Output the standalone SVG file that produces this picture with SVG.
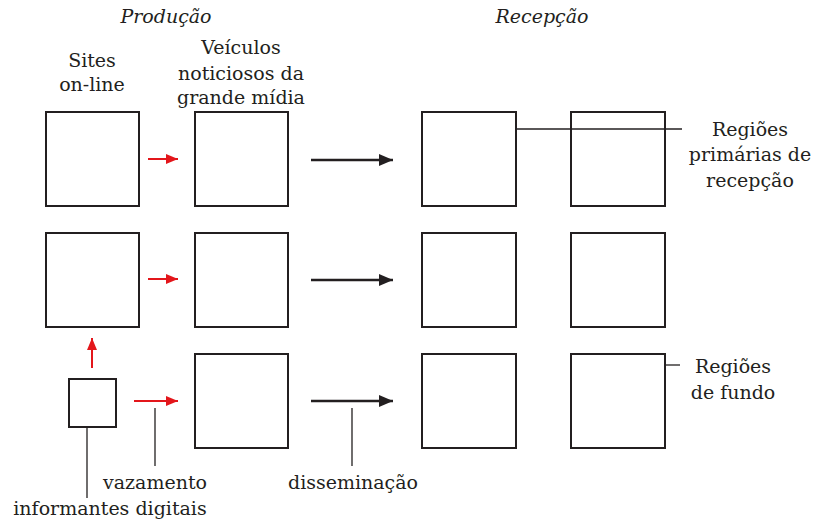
<svg xmlns="http://www.w3.org/2000/svg" width="819" height="522" viewBox="0 0 819 522">
<style>
.box{fill:none;stroke:#231f20;stroke-width:2}
.red{stroke:#e3161b;stroke-width:2;fill:none}
.blk{stroke:#231f20;stroke-width:2.5;fill:none}
.lead{stroke:#231f20;stroke-width:1.3;fill:none}
text{font-family:"DejaVu Serif","Liberation Serif",serif;font-size:19px;fill:#231f20;text-anchor:middle}
.it{font-style:italic}
</style>
<defs>
<marker id="rh" markerUnits="userSpaceOnUse" markerWidth="12" markerHeight="12" refX="12" refY="6" orient="auto"><path d="M0,1 L12,6 L0,11 Z" fill="#e3161b"/></marker>
<marker id="bh" markerUnits="userSpaceOnUse" markerWidth="14" markerHeight="14" refX="14" refY="7" orient="auto"><path d="M0,1 L14,7 L0,13 Z" fill="#231f20"/></marker>
</defs>
<rect width="819" height="522" fill="#fff"/>
<text class="it" x="166" y="23">Produção</text>
<text class="it" x="542" y="23">Recepção</text>
<g id="labels-top">
<text x="92" y="67">Sites</text>
<text x="92" y="91">on-line</text>
<text x="241" y="54">Veículos</text>
<text x="241" y="80">noticiosos da</text>
<text x="241" y="104">grande mídia</text>
</g>
<g id="n-site1"><rect class="box" x="46" y="112" width="93" height="94"/></g>
<g id="n-site2"><rect class="box" x="46" y="233" width="93" height="94"/></g>
<g id="n-inf"><rect class="box" x="69" y="379" width="47" height="48"/></g>
<g id="n-vei1"><rect class="box" x="195" y="112" width="93" height="94"/></g>
<g id="n-vei2"><rect class="box" x="195" y="233" width="93" height="94"/></g>
<g id="n-vei3"><rect class="box" x="195" y="354" width="93" height="94"/></g>
<g id="n-r1c3"><rect class="box" x="422" y="112" width="94" height="94"/></g>
<g id="n-r1c4"><rect class="box" x="571" y="112" width="94" height="94"/></g>
<g id="n-r2c3"><rect class="box" x="422" y="233" width="94" height="94"/></g>
<g id="n-r2c4"><rect class="box" x="571" y="233" width="94" height="94"/></g>
<g id="n-r3c3"><rect class="box" x="422" y="354" width="94" height="94"/></g>
<g id="n-r3c4"><rect class="box" x="571" y="354" width="94" height="94"/></g>
<g id="connectors">
<line class="red" x1="148" y1="159" x2="178" y2="159" marker-end="url(#rh)"/>
<line class="red" x1="148" y1="279" x2="178" y2="279" marker-end="url(#rh)"/>
<line class="red" x1="134" y1="401" x2="178" y2="401" marker-end="url(#rh)"/>
<line class="red" x1="92" y1="368" x2="92" y2="338" marker-end="url(#rh)"/>
<line class="blk" x1="311" y1="160" x2="393" y2="160" marker-end="url(#bh)"/>
<line class="blk" x1="311" y1="280" x2="393" y2="280" marker-end="url(#bh)"/>
<line class="blk" x1="311" y1="401" x2="393" y2="401" marker-end="url(#bh)"/>
<line class="lead" x1="87" y1="427" x2="87" y2="498"/>
<line class="lead" x1="155" y1="408" x2="155" y2="466"/>
<line class="lead" x1="352" y1="408" x2="352" y2="466"/>
<line class="lead" x1="516" y1="129" x2="682" y2="129"/>
<line class="lead" x1="666" y1="365" x2="680" y2="365"/>
</g>
<g id="labels-bottom">
<text x="155" y="489">vazamento</text>
<text x="110" y="515">informantes digitais</text>
<text x="353" y="489">disseminação</text>
<text x="750" y="136">Regiões</text>
<text x="750" y="161">primárias de</text>
<text x="750" y="187">recepção</text>
<text x="733" y="373">Regiões</text>
<text x="733" y="399">de fundo</text>
</g>
</svg>
